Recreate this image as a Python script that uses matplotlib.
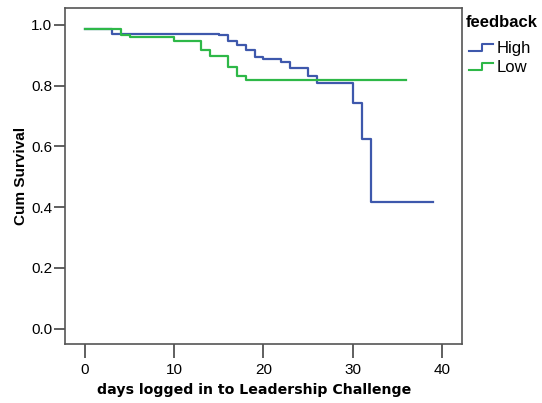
import matplotlib
matplotlib.use("Agg")
import matplotlib.pyplot as plt
from matplotlib.lines import Line2D
from matplotlib.legend_handler import HandlerBase

# step curves (time of each step, survival after it)
high_t = [0, 3, 15, 16, 17, 18, 19, 20, 22, 23, 25, 26, 30, 31, 32, 39]
high_s = [0.987, 0.971, 0.968, 0.947, 0.934, 0.918, 0.895, 0.888, 0.879, 0.858, 0.832, 0.808, 0.744, 0.624, 0.418, 0.418]
low_t = [0, 4, 5, 10, 13, 14, 16, 17, 18, 36]
low_s = [0.987, 0.967, 0.960, 0.946, 0.916, 0.899, 0.863, 0.832, 0.818, 0.818]

blue = "#3E58AC"
green = "#2EB848"


class StepHandler(HandlerBase):
    def create_artists(self, legend, orig, xd, yd, w, h, fontsize, trans):
        xs = [xd, xd + w * 0.55, xd + w * 0.55, xd + w]
        ys = [yd + h * 0.15, yd + h * 0.15, yd + h * 0.75, yd + h * 0.75]
        ln = Line2D(xs, ys, color=orig.get_color(), lw=1.5, transform=trans)
        return [ln]


plt.rcParams['font.family'] = ['Liberation Sans', 'DejaVu Sans']
W, H = 542, 403
fig = plt.figure(figsize=(W / 100, H / 100), dpi=100)
ax = fig.add_axes([65.3 / W, 1 - 344 / H, (461.7 - 65.3) / W, (344 - 8.3) / H])

l1, = ax.step(high_t, high_s, where='post', color=blue, lw=1.6)
l2, = ax.step(low_t, low_s, where='post', color=green, lw=1.6)

ax.set_xlim(-2.2, 42.2)
ax.set_ylim(-0.051, 1.055)
ax.set_xticks([0, 10, 20, 30, 40])
ax.set_yticks([0.0, 0.2, 0.4, 0.6, 0.8, 1.0])
ax.set_yticklabels(["0.0", "0.2", "0.4", "0.6", "0.8", "1.0"])
ax.tick_params(direction='out', width=1.2, color='#444444', labelsize=11)
ax.tick_params(axis='x', length=10, pad=4)
ax.tick_params(axis='y', length=8, pad=1.5)
for s in ax.spines.values():
    s.set_color('#555555')
    s.set_linewidth(1.2)

ax.set_xlabel("days logged in to Leadership Challenge", fontsize=10.2,
              fontweight='bold', family='DejaVu Sans', labelpad=6)
ax.xaxis.set_label_coords(0.476, -0.115)
ax.set_ylabel("Cum Survival", fontsize=11, fontweight='bold', labelpad=2.5)

fig.text(465.7 / W, 1 - 27.3 / H, "feedback", fontsize=12, fontweight='bold',
         va='baseline', ha='left')
leg = fig.legend([l1, l2], ["High", "Low"],
                 handler_map={Line2D: StepHandler()},
                 loc='upper left', bbox_to_anchor=(469 / W, 1 - 41 / H),
                 frameon=False, fontsize=12, handlelength=1.45,
                 handletextpad=0.2, labelspacing=0.22, borderpad=0,
                 borderaxespad=0)

fig.savefig("out.png", dpi=100)
